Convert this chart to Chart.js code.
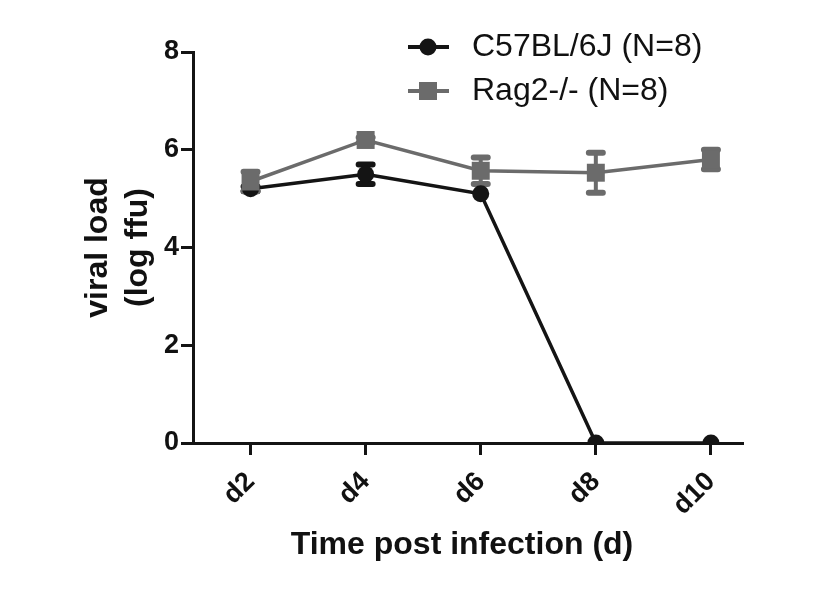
<!DOCTYPE html>
<html>
<head>
<meta charset="utf-8">
<script src="https://cdn.jsdelivr.net/npm/chart.js@4/dist/chart.umd.min.js"></script>
<style>
  html, body { margin: 0; padding: 0; background: #fff; }
</style>
</head>
<body>
<canvas id="viralChart" width="827" height="591"></canvas>
<script>
// Data (log ffu, mean +/- error)
const days = ['d2', 'd4', 'd6', 'd8', 'd10'];
const c57Mean = [5.2, 5.5, 5.1, 0, 0];
const c57Err = [0.05, 0.2, 0, 0, 0];
const ragMean = [5.35, 6.2, 5.57, 5.53, 5.8];
const ragErr = [0.2, 0.05, 0.27, 0.41, 0.2];
const yTicks = [0, 2, 4, 6, 8];
const xTitle = 'Time post infection (d)';
const yTitle = ['viral load', '(log ffu)'];

const black = '#141414';
const grey = '#6b6b6b';
const fontFamily = "'Liberation Sans', Arial, sans-serif";

// x is a linear index scale so the axis can run a little short on the right
const toPoints = arr => arr.map((v, i) => ({ x: i, y: v }));

// draws vertical error bars with caps, before the lines and markers
const errorBars = {
    id: 'errorBars',
    beforeDatasetsDraw(chart) {
        const ctx = chart.ctx;
        const x = chart.scales.x, y = chart.scales.y;
        chart.data.datasets.forEach(ds => {
            if (!ds.errors) return;
            ctx.save();
            ctx.strokeStyle = ds.borderColor;
            ctx.lineCap = 'round';
            ds.data.forEach((p, j) => {
                const e = ds.errors[j];
                if (!e) return;
                const px = x.getPixelForValue(p.x);
                const top = y.getPixelForValue(p.y + e);
                const bot = y.getPixelForValue(p.y - e);
                ctx.lineWidth = 4;
                ctx.beginPath();
                ctx.moveTo(px, top);
                ctx.lineTo(px, bot);
                ctx.stroke();
                ctx.lineWidth = 6;
                ctx.beginPath();
                ctx.moveTo(px - 7, top); ctx.lineTo(px + 7, top);
                ctx.moveTo(px - 7, bot); ctx.lineTo(px + 7, bot);
                ctx.stroke();
            });
            ctx.restore();
        });
    }
};

// legend in the GraphPad style: short line with the marker on it,
// plus the x axis title, which sits a bit left of the plot centre
const lineLegend = {
    id: 'lineLegend',
    afterDraw(chart) {
        const ctx = chart.ctx;
        const rows = [47, 91];
        chart.data.datasets.forEach((ds, i) => {
            const cy = rows[i];
            ctx.save();
            ctx.strokeStyle = ds.borderColor;
            ctx.fillStyle = ds.borderColor;
            ctx.lineWidth = 4;
            ctx.beginPath();
            ctx.moveTo(408, cy);
            ctx.lineTo(449, cy);
            ctx.stroke();
            if (ds.pointStyle === 'rect') {
                ctx.fillRect(428 - 9, cy - 9, 18, 18);
            } else {
                ctx.beginPath();
                ctx.arc(428, cy, 8.5, 0, Math.PI * 2);
                ctx.fill();
            }
            ctx.fillStyle = '#111';
            ctx.font = '32px ' + fontFamily;
            ctx.textBaseline = 'middle';
            ctx.textAlign = 'left';
            ctx.fillText(ds.label, 472, cy);
            ctx.restore();
        });
        ctx.save();
        ctx.fillStyle = '#111';
        ctx.font = 'bold 32px ' + fontFamily;
        ctx.textBaseline = 'middle';
        ctx.textAlign = 'center';
        ctx.fillText(xTitle, 462, 545);
        ctx.restore();
    }
};

const ctx = document.getElementById('viralChart').getContext('2d');

let viralChart = new Chart(ctx, {
    type: 'line',
    data: {
        datasets: [
            {
                label: 'C57BL/6J (N=8)',
                data: toPoints(c57Mean),
                errors: c57Err,
                borderColor: black,
                backgroundColor: black,
                borderWidth: 3.5,
                pointStyle: 'circle',
                pointRadius: 8.5,
                pointBorderWidth: 0,
                order: 1
            },
            {
                label: 'Rag2-/- (N=8)',
                data: toPoints(ragMean),
                errors: ragErr,
                borderColor: grey,
                backgroundColor: grey,
                borderWidth: 3.5,
                pointStyle: 'rect',
                pointRadius: 12.7,
                pointBorderWidth: 0,
                order: 0
            }
        ]
    },
    options: {
        responsive: false,
        animation: false,
        devicePixelRatio: 1,
        layout: { padding: { top: 52, right: 85, left: 0, bottom: 0 } },
        plugins: {
            legend: { display: false },
            tooltip: { enabled: false }
        },
        scales: {
            x: {
                type: 'linear',
                min: -0.5,
                max: 4.27,
                afterBuildTicks: s => { s.ticks = days.map((d, i) => ({ value: i })); },
                grid: {
                    drawOnChartArea: false,
                    drawTicks: true,
                    tickLength: 12,
                    color: black,
                    lineWidth: 3
                },
                border: { display: true, color: black, width: 3 },
                ticks: {
                    color: '#111',
                    minRotation: 45,
                    maxRotation: 45,
                    padding: 11,
                    callback: v => days[v],
                    font: { family: fontFamily, size: 27, weight: 'bold' }
                },
                title: { display: false },
                afterFit: s => { s.height = 148; }
            },
            y: {
                min: 0,
                max: 8,
                afterBuildTicks: s => { s.ticks = yTicks.map(v => ({ value: v })); },
                grid: {
                    drawOnChartArea: false,
                    drawTicks: true,
                    tickLength: 12,
                    color: black,
                    lineWidth: 3
                },
                border: { display: true, color: black, width: 3 },
                ticks: {
                    color: '#111',
                    padding: 2,
                    font: { family: fontFamily, size: 27, weight: 'bold' }
                },
                title: {
                    display: true,
                    text: yTitle,
                    color: '#111',
                    padding: { top: 78, bottom: 0 },
                    font: { family: fontFamily, size: 32, weight: 'bold', lineHeight: 40 / 32 }
                },
                afterFit: s => { s.width = 193; }
            }
        }
    },
    plugins: [errorBars, lineLegend]
});
</script>
</body>
</html>
